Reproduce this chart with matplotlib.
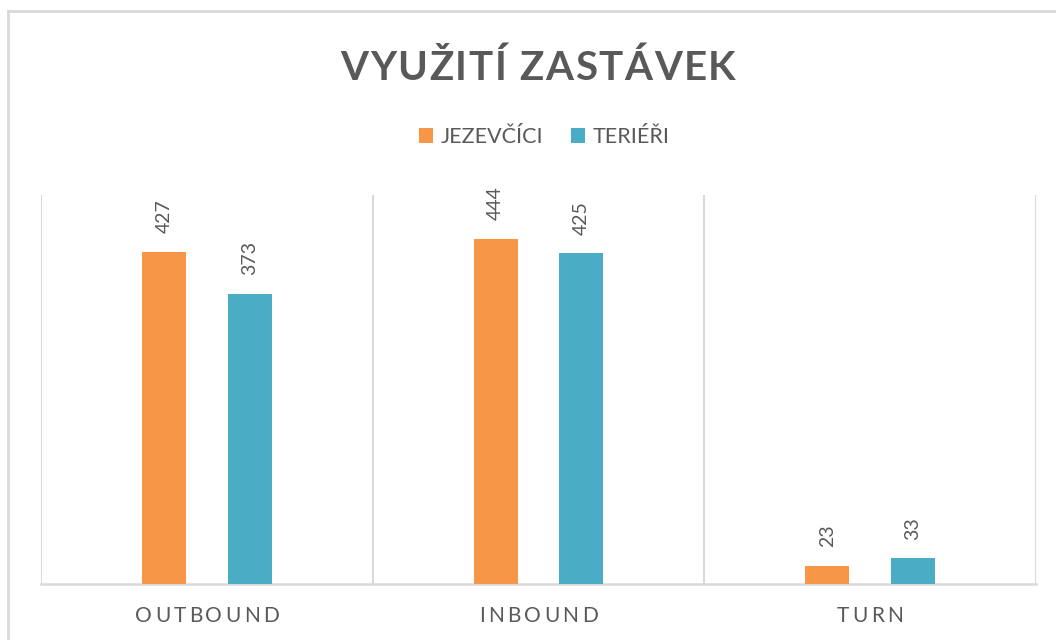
import matplotlib
matplotlib.use("Agg")
from matplotlib import pyplot as plt
from matplotlib.patches import Patch
from matplotlib.lines import Line2D
import numpy as np

kategorie = ["OUTBOUND", "INBOUND", "TURN"]
jezevcici = [427, 444, 23]
terieri = [373, 425, 33]
nazvy_serii = ["JEZEVČÍCI", "TERIÉŘI"]

ORANZOVA = "#F79646"
TYRKYS = "#4BACC6"
SEDA = "#595959"
MRIZKA = "#d9d9d9"
W, H = 1056, 640

plt.rcParams["font.family"] = ["Lato", "DejaVu Sans"]

fig = plt.figure(figsize=(W / 100, H / 100), dpi=100)
ax = fig.add_axes([41 / W, 1 - 584 / H, 995 / W, 389 / H])

x = np.arange(len(kategorie))
sirka = 0.133
posun = 0.129
b1 = ax.bar(x - posun, jezevcici, sirka, color=ORANZOVA, zorder=3)
b2 = ax.bar(x + posun, terieri, sirka, color=TYRKYS, zorder=3)

# popisky hodnot nad sloupci, otocene
for bars in (b1, b2):
    for b in bars:
        ax.annotate(str(int(b.get_height())),
                    (b.get_x() + b.get_width() / 2, b.get_height()),
                    xytext=(0, 13.5), textcoords="offset points",
                    rotation=90, ha="center", va="bottom",
                    fontsize=14, color=SEDA)

ax.set_xlim(-0.5, len(kategorie) - 0.5)
ax.set_ylim(0, 500)
for g in np.arange(-0.5, len(kategorie)):
    ax.axvline(g, color=MRIZKA, lw=1.5, zorder=1)
for s in ["top", "left", "right"]:
    ax.spines[s].set_visible(False)
ax.spines["bottom"].set_color(MRIZKA)
ax.spines["bottom"].set_linewidth(1.8)
ax.set_xticks([])
ax.set_yticks([])


def sirka_znaku(r, ch, **kw):
    if ch == " ":
        t1 = fig.text(0, 0, "x x", **kw)
        t2 = fig.text(0, 0, "xx", **kw)
        w = t1.get_window_extent(r).width - t2.get_window_extent(r).width
        t1.remove()
        t2.remove()
        return w
    t = fig.text(0, 0, ch, **kw)
    w = t.get_window_extent(r).width
    t.remove()
    return w


def prostrkany_text(s, xc, yb, mezera, **kw):
    # text s roztazenymi pismeny, xc a yb v pixelech (yb = baseline od shora)
    r = fig.canvas.get_renderer()
    sirky = [sirka_znaku(r, ch, **kw) for ch in s]
    celkem = sum(sirky) + mezera * (len(s) - 1)
    xx = xc - celkem / 2
    for ch, w in zip(s, sirky):
        fig.text(xx / W, 1 - yb / H, ch, ha="left", va="baseline", **kw)
        xx += w + mezera


prostrkany_text("VYUŽITÍ ZASTÁVEK", 538, 80, 1.6,
                fontsize=29, fontweight="bold", color=SEDA)

# popisky kategorii
for i, k in enumerate(kategorie):
    xp = ax.transData.transform((i, 0))[0]
    prostrkany_text(k, xp, 622, 3.2, fontsize=15, color=SEDA)

ruce = [Patch(facecolor=ORANZOVA), Patch(facecolor=TYRKYS)]
leg = fig.legend(ruce, nazvy_serii, loc="center", bbox_to_anchor=(544 / W, 1 - 137 / H),
                 ncol=2, frameon=False, fontsize=15.5, handlelength=0.65, handleheight=0.65,
                 handletextpad=0.35, columnspacing=1.3)
for t in leg.get_texts():
    t.set_color(SEDA)

# ramecek grafu
fig.add_artist(Line2D([8 / W, 8 / W], [1 - 11 / H, 0], color=MRIZKA, lw=2, transform=fig.transFigure))
fig.add_artist(Line2D([8 / W, 1], [1 - 11 / H, 1 - 11 / H], color=MRIZKA, lw=2, transform=fig.transFigure))

fig.savefig("out.png", dpi=100)
